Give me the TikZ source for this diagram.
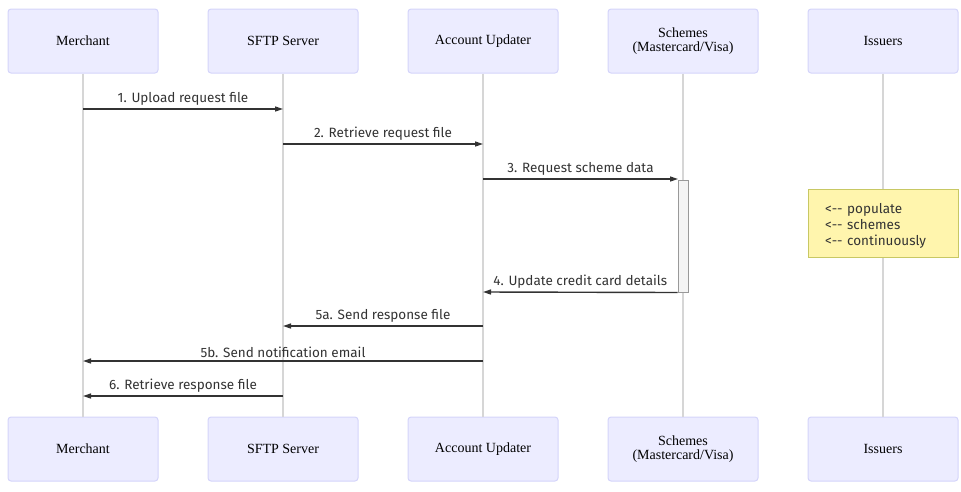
\documentclass[tikz,border=0pt]{standalone}
\usepackage{fontspec}
\setmainfont{Liberation Serif}
\newfontfamily\msgfont{Fira Sans}
\usetikzlibrary{arrows.meta}
\definecolor{actfill}{HTML}{ECECFF}
\definecolor{actline}{HTML}{D4D4FA}
\definecolor{notefill}{HTML}{FFF5AD}
\definecolor{noteline}{HTML}{C8C864}
\definecolor{lifegray}{HTML}{D6D6D6}
\definecolor{msgline}{HTML}{333333}
\definecolor{actvfill}{HTML}{F4F4F4}
\definecolor{actvline}{HTML}{999999}
\tikzset{actor/.style = {draw=actline, fill=actfill, line width=1pt, rounded corners=3pt, minimum width=150pt, minimum height=64pt, align=center, font=\fontsize{14}{13.5}\selectfont},
         life/.style = {draw=lifegray, line width=1.5pt},
         msg/.style = {draw=msgline, line width=1.4pt, -{Triangle[length=8pt,width=5pt]}},
         lbl/.style = {font=\msgfont\fontsize{13.5}{15}\selectfont, text=msgline, inner sep=2pt},
         activ/.style = {draw=actvline, fill=actvfill, line width=1pt, minimum width=10pt, minimum height=112pt, inner sep=0pt},
         note/.style = {draw=noteline, fill=notefill, line width=1pt, text width=116pt, inner xsep=17pt, minimum height=68pt, align=left, font=\msgfont\fontsize{13.5}{16}\selectfont, text=msgline}}

\begin{document}
\begin{tikzpicture}[x=1pt,y=-1pt]
    \useasboundingbox (0,0) rectangle (961,491);

    \node[actor] (mer) at (83,41) {Merchant};
    \node[actor] (sftp) at (283,41) {SFTP Server};
    \node[actor] (upd) at (483,41) {Account Updater};
    \node[actor] (sch) at (683,41) {Schemes\\(Mastercard/Visa)};
    \node[actor] (iss) at (883,41) {Issuers};

    \node[actor] (merB) at (83,449) {Merchant};
    \node[actor] (sftpB) at (283,449) {SFTP Server};
    \node[actor] (updB) at (483,449) {Account Updater};
    \node[actor] (schB) at (683,449) {Schemes\\(Mastercard/Visa)};
    \node[actor] (issB) at (883,449) {Issuers};

    \draw[life] (mer.south)--(merB.north);
    \draw[life] (sftp.south)--(sftpB.north);
    \draw[life] (upd.south)--(updB.north);
    \draw[life] (sch.south)--(schB.north);
    \draw[life] (iss.south)--(issB.north);

    \node[activ] (schact) at (683,236) {};
    \node[note] (popnote) at (883,223) {\rule{0pt}{16pt}<{-}{-} populate\\<{-}{-} schemes\\<{-}{-} continuously};

    \coordinate (mer1) at (83,109);
    \coordinate (sftp1) at (283,109);
    \coordinate (sftp2) at (283,144);
    \coordinate (upd2) at (483,144);
    \coordinate (upd3) at (483,179);
    \coordinate (sch3) at (678,179);
    \coordinate (upd4) at (483,292);
    \coordinate (upd5) at (483,326);
    \coordinate (sftp5) at (283,326);
    \coordinate (upd6) at (483,361);
    \coordinate (mer6) at (83,361);
    \coordinate (sftp7) at (283,396);
    \coordinate (mer7) at (83,396);

    \draw[msg](mer1)--(sftp1)node[lbl,midway,above=1pt]{1. Upload request file};
    \draw[msg](sftp2)--(upd2)node[lbl,midway,above=1pt]{2. Retrieve request file};
    \draw[msg](upd3)--(sch3)node[lbl,midway,above=1pt]{3. Request scheme data};
    \draw[msg](schact.south west)--(upd4)node[lbl,midway,above=1pt]{4. Update credit card details};
    \draw[msg](upd5)--(sftp5)node[lbl,midway,above=1pt]{5a. Send response file};
    \draw[msg](upd6)--(mer6)node[lbl,midway,above=1pt]{5b. Send notification email};
    \draw[msg](sftp7)--(mer7)node[lbl,midway,above=1pt]{6. Retrieve response file};
\end{tikzpicture}
\end{document}
